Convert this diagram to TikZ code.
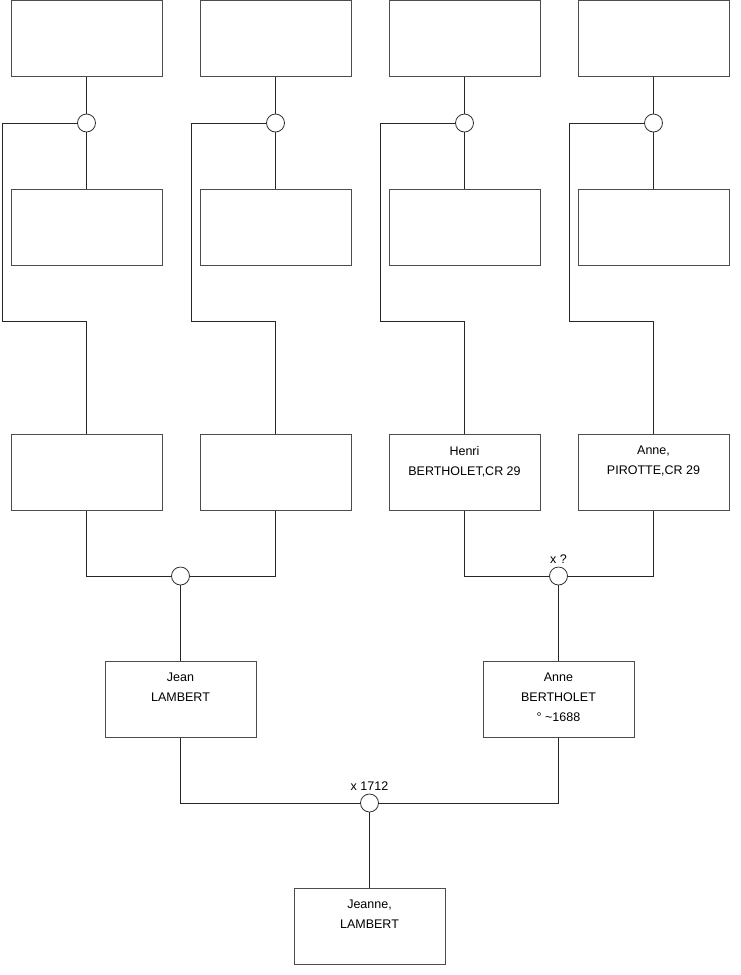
\documentclass[tikz,border=0pt]{standalone}
\usepackage{fontspec}
\setmainfont{Liberation Sans}
\usetikzlibrary{positioning}
\tikzset{
    person/.style={draw=black!70, line width=1pt, minimum width=151pt, minimum height=76pt, inner sep=0pt},
    union/.style={circle, draw=black!80, line width=0.8pt, fill=white, minimum size=18pt, inner sep=0pt},
    names/.style={inner sep=0pt, align=center, font=\fontsize{12.5pt}{20pt}\selectfont},
    link/.style={draw=black!85, line width=0.9pt}
}
\begin{document}
\begin{tikzpicture}[x=1pt, y=-1pt]
        \useasboundingbox (0,0) rectangle (740,975);
        % arriere-grands-parents
        \node[person] (gp1) at (86.5,38) {};
        \node[person] (gp2) at (275.5,38) {};
        \node[person] (gp3) at (464.5,38) {};
        \node[person] (gp4) at (653.5,38) {};
        \node[person] (gm1) at (86.5,227) {};
        \node[person] (gm2) at (275.5,227) {};
        \node[person] (gm3) at (464.5,227) {};
        \node[person] (gm4) at (653.5,227) {};
        \node[union] (u1) at (86.5,123) {};
        \node[union] (u2) at (275.5,123) {};
        \node[union] (u3) at (464.5,123) {};
        \node[union] (u4) at (653.5,123) {};
        % grands-parents
        \node[person] (p1) at (86.5,472.5) {};
        \node[person] (p2) at (275.5,472.5) {};
        \node[person] (p3) at (464.5,472.5) {};
        \node[person] (p4) at (653.5,472.5) {};
        \node[names, below=12pt of p3.north] (p3t) {Henri\\BERTHOLET,CR 29};
        \node[names, below=12pt of p4.north] (p4t) {Anne,\\PIROTTE,CR 29};
        \node[union] (v1) at (180.5,576) {};
        \node[union] (v2) at (558.5,576) {};
        \node[names, above=3pt of v2] (v2t) {x ?};
        % parents
        \node[person] (jean) at (180.5,699) {};
        \node[person] (anne) at (558.5,699) {};
        \node[names, below=12pt of jean.north] (jeant) {Jean\\LAMBERT};
        \node[names, below=12pt of anne.north] (annet) {Anne\\BERTHOLET\\\textdegree{} \textasciitilde1688};
        \node[union] (w) at (369.5,803) {};
        \node[names, above=3pt of w] (wt) {x 1712};
        % enfant
        \node[person] (jeanne) at (369.5,926) {};
        \node[names, below=12pt of jeanne.north] (jeannet) {Jeanne,\\LAMBERT};

        \coordinate (k1) at (2,321);
        \coordinate (k2) at (191,321);
        \coordinate (k3) at (380,321);
        \coordinate (k4) at (569,321);

        \foreach \i in {1,2,3,4} {
            \draw[link] (gp\i.south) -- (u\i.north);
            \draw[link] (u\i.south) -- (gm\i.north);
            \draw[link] (u\i.west) -| (k\i) -| (p\i.north);
        }
        \draw[link] (p1.south) |- (v1.west);
        \draw[link] (p2.south) |- (v1.east);
        \draw[link] (p3.south) |- (v2.west);
        \draw[link] (p4.south) |- (v2.east);
        \draw[link] (v1.south) -- (jean.north);
        \draw[link] (v2.south) -- (anne.north);
        \draw[link] (jean.south) |- (w.west);
        \draw[link] (anne.south) |- (w.east);
        \draw[link] (w.south) -- (jeanne.north);
    \end{tikzpicture}
\end{document}
